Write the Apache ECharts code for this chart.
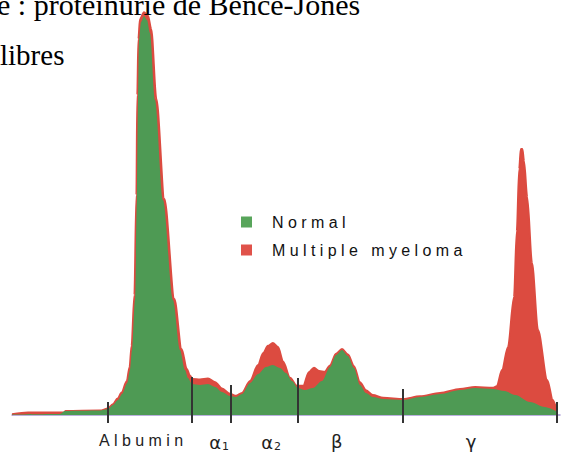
<!DOCTYPE html>
<html>
<head>
<meta charset="utf-8">
<script src="https://cdn.jsdelivr.net/npm/echarts@6/dist/echarts.min.js"></script>
<style>
  html, body { margin: 0; padding: 0; background: #fff; }
  #main { width: 563px; height: 452px; }
  #main text[style*="Arial"] { letter-spacing: 4.4px; }
  #main text[style*="DejaVu"] { letter-spacing: 0; }
</style>
</head>
<body>
<div id="main"></div>
<script>
// ---- Data (mobility units along x, relative intensity along y) ----
const headerLines = ['e : protéinurie de Bence-Jones', 'libres'];
const seriesNames = ['Normal', 'Multiple myeloma'];

const normalData = [
  [0,0.1],[6,0.25],[6.6,1.0],[11,1.1],[12,1.5],[12.6,2.5],[13.25,3.75],[13.75,5.25],
  [14.4,8],[14.75,11.25],[15,16.25],[15.375,28.75],[15.625,53.75],[15.75,78.75],
  [15.875,93.75],[16.125,98.25],[16.5,99.75],[16.875,98.75],[17.25,95.5],[17.875,78.75],
  [18.875,53.75],[20.125,28.75],[21,16.25],[21.625,11.25],[22,9.25],[22.5,7.75],
  [23.5,7.5],[24.5,7.75],[25.4,7],[26.25,5.75],[27.25,4.75],[28,4.5],[28.75,5.25],
  [29.75,8],[30.75,10.25],[31.75,12],[32.6,12.5],[33.5,11.75],[34.25,10.5],[35,8.5],
  [35.75,6.75],[36.6,6.25],[37.6,6.75],[38.75,8.5],[39.75,12],[40.5,15],[41.25,16.25],
  [42,14.75],[42.75,11.75],[43.5,7.5],[44.25,5.5],[45.1,4.5],[46.4,4],[48.9,3.75],
  [51,4.5],[53.5,5.25],[56,6.25],[57.9,6.75],[60.1,6.5],[61.6,6],[62.9,5],[64.75,3.25],
  [66.6,2],[68,1]
];

const myelomaData = [
  [0,0.2],[2,0.6],[6.5,0.6],[6.7,1.0],[11,1.1],[12,1.6],[12.6,2.7],[13.2,4.1],[13.7,5.6],
  [14.35,8.5],[14.7,12],[14.95,17.3],[15.3,30],[15.55,55],[15.66,80],[15.8,94],
  [16.0,99],[16.5,100.7],[17,99.8],[17.4,96.5],[18.05,79],[19.05,54],[20.3,29],
  [21.2,16.5],[21.85,11.5],[22.25,9.8],[22.6,9],[23.5,8.9],[24.5,9.1],[25.4,8.2],
  [26.25,6.6],[27.25,5.3],[28,4.8],[28.75,5.5],[29.75,8.5],[30.75,12.5],[31.4,15.5],
  [32,17.3],[32.6,18],[33.25,17],[33.9,13.3],[34.75,9.3],[35.6,7.3],[36.4,7.3],
  [37.1,10.7],[37.75,11.8],[38.4,11],[39.1,10.8],[39.75,12.4],[40.5,15.3],[41.25,16.5],
  [42,15.1],[42.75,12.2],[43.5,8.2],[44.25,6.2],[45.1,5],[46.4,4.3],[48.9,4],[51,4.7],
  [53.5,5.5],[56,6.5],[57.9,7],[60.1,6.8],[60.6,7.2],[61.25,11.25],[62,17],[62.75,29.5],
  [63.1,46],[63.4,61.5],[63.6,66.5],[63.8,66.5],[64,63.5],[64.4,54.5],[65,38],
  [65.75,21.25],[66.9,8.75],[67.6,3.75],[68,1.75]
];

// fraction boundaries (tick marks) and their heights above the baseline
const boundaryX = [12, 22.5, 27.4, 35.75, 48.9, 68.1];
const boundaryTop = [3.25, 9.5, 7.5, 9.25, 6.5, 3.25];
// fraction labels
const fractionNames = ['Albumin', 'α|1', 'α|2', 'β', 'γ'];
const fractionCenters = [16.4, 25.9, 32.4, 40.6, 57.4];

// ---- Chart ----
const GREEN = '#4e9a54';
const RED = '#dc4b40';

const chart = echarts.init(document.getElementById('main'), null, { renderer: 'svg' });

function labelFor(v) {
  let best = 0;
  for (let i = 0; i < fractionCenters.length; i++) {
    if (Math.abs(fractionCenters[i] - v) < Math.abs(fractionCenters[best] - v)) best = i;
  }
  const n = fractionNames[best];
  if (n.indexOf('|') >= 0) {
    const p = n.split('|');
    return '{g|' + p[0] + '}{s|' + p[1] + '}';
  }
  if (n.length === 1) return '{g|' + n + '}';
  return '{a|' + n + '}';
}

chart.setOption({
  animation: false,
  backgroundColor: '#fff',
  grid: { left: 12, right: 3, top: 11, bottom: 37, outerBoundsMode: 'none', containLabel: false },
  xAxis: {
    type: 'value', min: 0, max: 68.5,
    splitLine: { show: false },
    axisLine: { show: true, lineStyle: { color: '#a597d4', width: 1.5 } },
    axisTick: {
      show: true, customValues: boundaryX, length: 8, inside: false,
      lineStyle: { color: '#333', width: 2 }
    },
    axisLabel: {
      customValues: fractionCenters,
      margin: 17,
      formatter: labelFor,
      rich: {
        a: { fontFamily: 'Arial', fontSize: 16, color: '#222' },
        g: { fontFamily: 'DejaVu Sans', fontSize: 18, color: '#222' },
        s: { fontFamily: 'DejaVu Sans', fontSize: 11, color: '#222', padding: [9, 0, 0, 1] }
      }
    }
  },
  yAxis: {
    type: 'value', min: 0, max: 101,
    show: false
  },
  legend: {
    orient: 'vertical', left: 236, top: 209,
    icon: 'rect', itemWidth: 11, itemHeight: 11, itemGap: 12,
    textStyle: { fontFamily: 'Arial', fontSize: 16, color: '#111', lineHeight: 16, padding: [0, 0, 0, 15] },
    data: [
      { name: seriesNames[0], itemStyle: { color: '#58a55b' } },
      { name: seriesNames[1], itemStyle: { color: '#e0524a' } }
    ]
  },
  graphic: [
    { type: 'text', left: -3, top: -11, style: { text: headerLines[0], font: '30px "Liberation Serif"', fill: '#000' }, z: 100 },
    { type: 'text', left: 0, top: 40, style: { text: headerLines[1], font: '29px "Liberation Serif"', fill: '#000' }, z: 100 }
  ],
  series: [
    {
      name: seriesNames[1], type: 'line', data: myelomaData,
      smooth: 0.3, smoothMonotone: 'x', symbol: 'none',
      lineStyle: { color: RED, width: 2 },
      itemStyle: { color: RED },
      areaStyle: { color: RED, opacity: 1 },
      z: 2
    },
    {
      name: seriesNames[0], type: 'line', data: normalData,
      smooth: 0.3, smoothMonotone: 'x', symbol: 'none',
      lineStyle: { color: GREEN, width: 0 },
      itemStyle: { color: GREEN },
      areaStyle: { color: GREEN, opacity: 1 },
      z: 3,
      markLine: {
        silent: true, symbol: 'none',
        label: { show: false },
        lineStyle: { color: '#333', width: 2, type: 'solid' },
        data: boundaryX.map((x, i) => [{ coord: [x, boundaryTop[i]] }, { coord: [x, 0] }])
      }
    }
  ]
});
</script>
</body>
</html>
